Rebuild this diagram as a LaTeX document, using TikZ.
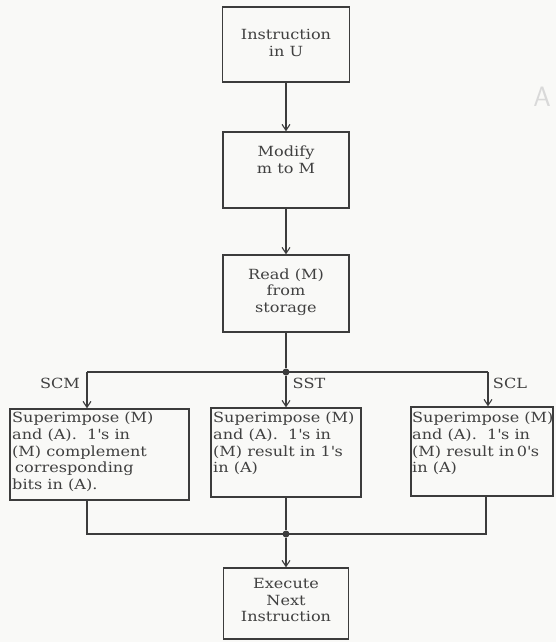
\documentclass[tikz,border=0pt]{standalone}
\usepackage{fontspec}
\setmainfont[FakeStretch=1.15]{DejaVu Serif}
\usetikzlibrary{arrows.meta}
\definecolor{ink}{HTML}{3C3C3C}
\definecolor{txt}{HTML}{404040}
\definecolor{paper}{HTML}{F9F9F7}
\newcommand{\apo}{\textquotesingle}
\begin{document}
\begin{tikzpicture}[x=1pt,y=-1pt,
  box/.style={draw=ink, line width=1.3pt, inner sep=0pt},
  btxt/.style={text=txt, inner sep=0pt, font=\fontsize{14}{16.7}\selectfont},
  ctxt/.style={btxt, align=center},
  ltxt/.style={btxt, align=left, anchor=north west},
  lbl/.style={text=txt, inner sep=0pt, font=\fontsize{14}{16.7}\selectfont},
  wire/.style={draw=ink, line width=1.3pt},
  arr/.style={wire, -{Straight Barb[length=6pt,width=8pt,line width=1.1pt]}},
  dot/.style={circle, fill=ink, inner sep=0pt, minimum size=7pt}]
\fill[paper] (0,0) rectangle (556,642);
\useasboundingbox (0,0) rectangle (556,642);

% top column boxes
\node[box, minimum width=127pt, minimum height=75pt] (b1) at (286,44.5) {};
\node[ctxt] (t1) at (286,43) {Instruction\\in U};
\node[box, minimum width=126pt, minimum height=76pt] (b2) at (286,170) {};
\node[ctxt] (t2) at (286,160) {Modify\\m to M};
\node[box, minimum width=126pt, minimum height=77pt] (b3) at (286,293.5) {};
\node[ctxt] (t3) at (286,292) {Read (M)\\from\\storage};

% branch boxes
\node[box, minimum width=179pt, minimum height=91pt] (bl) at (99.5,454.5) {};
\node[ltxt] (tl) at (12,412) {Superimpose (M)\\and (A).\ \ 1\apo s in\\(M) complement\\\hspace{3pt}corresponding\\bits in (A).};
\node[box, minimum width=150pt, minimum height=89pt] (bm) at (286,452.5) {};
\node[ltxt] (tm) at (213,412) {Superimpose (M)\\and (A).\ \ 1\apo s in\\(M) result in 1\apo s\\in (A)};
\node[box, minimum width=142pt, minimum height=89pt] (br) at (482,451.5) {};
\node[ltxt] (tr) at (412,412) {Superimpose (M)\\and (A).\ \ 1\apo s in\\(M) result in\,0\apo s\\in (A)};

% final box
\node[box, minimum width=125pt, minimum height=71pt] (be) at (286,603.5) {};
\node[ctxt] (te) at (286,600) {Execute\\Next\\Instruction};

% labels
\node[lbl] (scm) at (60,383) {SCM};
\node[lbl] (sst) at (309,383) {SST};
\node[lbl] (scl) at (510,383) {SCL};

% junctions
\node[dot] (j1) at (286,372) {};
\node[dot] (j2) at (286,534) {};
\coordinate (sl) at (87,372);
\coordinate (sr) at (488,372);
\coordinate (ml) at (87,534);
\coordinate (mr) at (486,534);

% connectors
\draw[arr] (b1) -- (b2);
\draw[arr] (b2) -- (b3);
\draw[wire] (b3) -- (j1);
\draw[wire] (sl) -- (sr);
\draw[arr] (sl) -- (sl |- bl.north);
\draw[arr] (j1) -- (bm);
\draw[arr] (sr) -- (sr |- br.north);
\draw[wire] (bl.south -| ml) -- (ml) -- (mr) -- (br.south -| mr);
\draw[wire] (bm) -- (j2);
\draw[arr] (j2) -- (be);

% faint show-through letter
\node[text=gray!30, inner sep=0pt, font=\fontsize{28}{28}\selectfont\sffamily] (ghost) at (542,97) {A};
\end{tikzpicture}
\end{document}
